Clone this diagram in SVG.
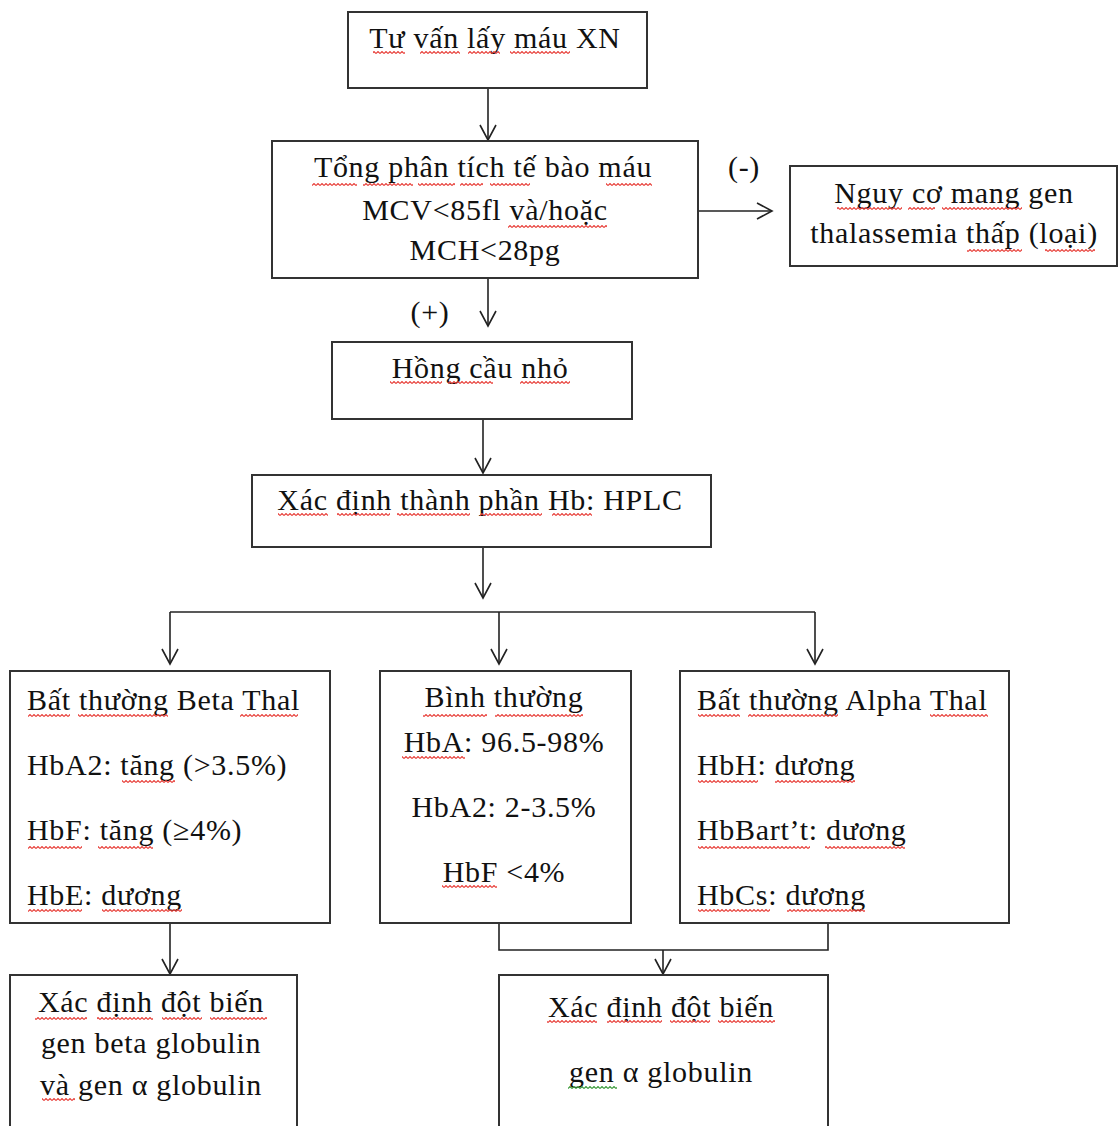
<svg xmlns="http://www.w3.org/2000/svg" width="1118" height="1126" viewBox="0 0 1118 1126">
<style>
.box{fill:#fff;stroke:#333;stroke-width:2}
.t{font-family:"Liberation Serif","Times New Roman",serif;font-size:30px;letter-spacing:0.7px;fill:#111}
.c{text-anchor:middle}
.ln{fill:none;stroke:#222;stroke-width:1.6}
.sp{fill:url(#wv)}
.sg{fill:url(#wg)}
</style>
<defs>
<marker id="arr" viewBox="-16 -10 18 20" refX="0" refY="0" markerWidth="18" markerHeight="20" markerUnits="userSpaceOnUse" orient="auto">
<path d="M-15,-8 L0,0 L-15,8" fill="none" stroke="#222" stroke-width="1.6"/>
</marker>
<pattern id="wv" x="0" y="0" width="4" height="3" patternUnits="userSpaceOnUse">
<path d="M0,2.5 L2,0.5 L4,2.5" fill="none" stroke="#e8403a" stroke-width="1.1"/>
</pattern>
<pattern id="wg" x="0" y="0" width="4" height="3" patternUnits="userSpaceOnUse">
<path d="M0,2.5 L2,0.5 L4,2.5" fill="none" stroke="#3a9a3a" stroke-width="1.1"/>
</pattern>
</defs>
<rect width="1118" height="1126" fill="#fff"/>
<g id="connectors">
<path class="ln" d="M488,88 V140" marker-end="url(#arr)"/>
<path class="ln" d="M698,211 H772" marker-end="url(#arr)"/>
<path class="ln" d="M488,278 V326" marker-end="url(#arr)"/>
<path class="ln" d="M483,419 V473" marker-end="url(#arr)"/>
<path class="ln" d="M483,547 V598" marker-end="url(#arr)"/>
<path class="ln" d="M170,612 H815"/>
<path class="ln" d="M170,612 V664" marker-end="url(#arr)"/>
<path class="ln" d="M499,612 V664" marker-end="url(#arr)"/>
<path class="ln" d="M815,612 V664" marker-end="url(#arr)"/>
<path class="ln" d="M170,923 V974" marker-end="url(#arr)"/>
<path class="ln" d="M499,923 V950 H828 V923"/>
<path class="ln" d="M663,950 V974" marker-end="url(#arr)"/>
<text class="t c" x="744" y="177">(-)</text>
<text class="t c" x="430" y="322">(+)</text>
</g>
<g id="n1">
<rect class="box" x="348" y="12" width="299" height="76"/>
<text class="t c" x="495" y="48">Tư vấn lấy máu XN</text>
</g>
<g id="n2">
<rect class="box" x="272" y="141" width="426" height="137"/>
<text class="t c" x="483" y="177">Tổng phân tích tế bào máu</text>
<text class="t c" x="485" y="220">MCV&lt;85fl và/hoặc</text>
<text class="t c" x="485" y="260">MCH&lt;28pg</text>
</g>
<g id="n3">
<rect class="box" x="790" y="166" width="327" height="100"/>
<text class="t c" x="954" y="203">Nguy cơ mang gen</text>
<text class="t c" x="954" y="243">thalassemia thấp (loại)</text>
</g>
<g id="n4">
<rect class="box" x="332" y="342" width="300" height="77"/>
<text class="t c" x="480" y="378">Hồng cầu nhỏ</text>
</g>
<g id="n5">
<rect class="box" x="252" y="475" width="459" height="72"/>
<text class="t c" x="480" y="510">Xác định thành phần Hb: HPLC</text>
</g>
<g id="n6">
<rect class="box" x="10" y="671" width="320" height="252"/>
<text class="t" x="27" y="710">Bất thường Beta Thal</text>
<text class="t" x="27" y="775">HbA2: tăng (&gt;3.5%)</text>
<text class="t" x="27" y="840">HbF: tăng (≥4%)</text>
<text class="t" x="27" y="905">HbE: dương</text>
</g>
<g id="n7">
<rect class="box" x="380" y="671" width="251" height="252"/>
<text class="t c" x="504" y="707">Bình thường</text>
<text class="t c" x="504" y="752">HbA: 96.5-98%</text>
<text class="t c" x="504" y="817">HbA2: 2-3.5%</text>
<text class="t c" x="504" y="882">HbF &lt;4%</text>
</g>
<g id="n8">
<rect class="box" x="680" y="671" width="329" height="252"/>
<text class="t" x="697" y="710">Bất thường Alpha Thal</text>
<text class="t" x="697" y="775">HbH: dương</text>
<text class="t" x="697" y="840">HbBart’t: dương</text>
<text class="t" x="697" y="905">HbCs: dương</text>
</g>
<g id="n9">
<rect class="box" x="10" y="975" width="287" height="170"/>
<text class="t c" x="151" y="1012">Xác định đột biến</text>
<text class="t c" x="151" y="1053">gen beta globulin</text>
<text class="t c" x="151" y="1095">và gen α globulin</text>
</g>
<g id="n10">
<rect class="box" x="499" y="975" width="329" height="170"/>
<text class="t c" x="661" y="1017">Xác định đột biến</text>
<text class="t c" x="661" y="1082">gen α globulin</text>
</g>
<g id="spellcheck">
<rect class="sp" x="373" y="51" width="32" height="3"/>
<rect class="sp" x="420" y="51" width="40" height="3"/>
<rect class="sp" x="468" y="51" width="32" height="3"/>
<rect class="sp" x="510" y="51" width="60" height="3"/>
<rect class="sp" x="312" y="183" width="45" height="3"/>
<rect class="sp" x="363" y="183" width="50" height="3"/>
<rect class="sp" x="418" y="183" width="37" height="3"/>
<rect class="sp" x="460" y="183" width="23" height="3"/>
<rect class="sp" x="490" y="183" width="40" height="3"/>
<rect class="sp" x="606" y="183" width="46" height="3"/>
<rect class="sp" x="508" y="225" width="99" height="3"/>
<rect class="sp" x="837" y="207" width="65" height="3"/>
<rect class="sp" x="908" y="207" width="27" height="3"/>
<rect class="sp" x="942" y="207" width="80" height="3"/>
<rect class="sp" x="967" y="249" width="55" height="3"/>
<rect class="sp" x="1045" y="249" width="50" height="3"/>
<rect class="sp" x="390" y="381" width="52" height="3"/>
<rect class="sp" x="448" y="381" width="45" height="3"/>
<rect class="sp" x="520" y="381" width="50" height="3"/>
<rect class="sp" x="278" y="513" width="50" height="3"/>
<rect class="sp" x="337" y="513" width="53" height="3"/>
<rect class="sp" x="397" y="513" width="73" height="3"/>
<rect class="sp" x="480" y="513" width="62" height="3"/>
<rect class="sp" x="552" y="513" width="40" height="3"/>
<rect class="sp" x="28" y="714" width="42" height="3"/>
<rect class="sp" x="78" y="714" width="90" height="3"/>
<rect class="sp" x="240" y="714" width="58" height="3"/>
<rect class="sp" x="122" y="780" width="53" height="3"/>
<rect class="sp" x="28" y="846" width="54" height="3"/>
<rect class="sp" x="98" y="846" width="55" height="3"/>
<rect class="sp" x="28" y="909" width="54" height="3"/>
<rect class="sp" x="102" y="909" width="80" height="3"/>
<rect class="sp" x="423" y="714" width="64" height="3"/>
<rect class="sp" x="495" y="714" width="88" height="3"/>
<rect class="sp" x="402" y="756" width="63" height="3"/>
<rect class="sp" x="442" y="885" width="55" height="3"/>
<rect class="sp" x="698" y="714" width="42" height="3"/>
<rect class="sp" x="748" y="714" width="90" height="3"/>
<rect class="sp" x="930" y="714" width="58" height="3"/>
<rect class="sp" x="698" y="780" width="60" height="3"/>
<rect class="sp" x="775" y="780" width="80" height="3"/>
<rect class="sp" x="698" y="846" width="112" height="3"/>
<rect class="sp" x="825" y="846" width="80" height="3"/>
<rect class="sp" x="698" y="909" width="72" height="3"/>
<rect class="sp" x="787" y="909" width="78" height="3"/>
<rect class="sp" x="35" y="1017" width="52" height="3"/>
<rect class="sp" x="97" y="1017" width="56" height="3"/>
<rect class="sp" x="162" y="1017" width="40" height="3"/>
<rect class="sp" x="210" y="1017" width="57" height="3"/>
<rect class="sp" x="42" y="1098" width="33" height="3"/>
<rect class="sp" x="547" y="1020" width="50" height="3"/>
<rect class="sp" x="607" y="1020" width="55" height="3"/>
<rect class="sp" x="670" y="1020" width="40" height="3"/>
<rect class="sp" x="718" y="1020" width="57" height="3"/>
<rect class="sg" x="568" y="1086" width="49" height="3"/>
</g>
</svg>
